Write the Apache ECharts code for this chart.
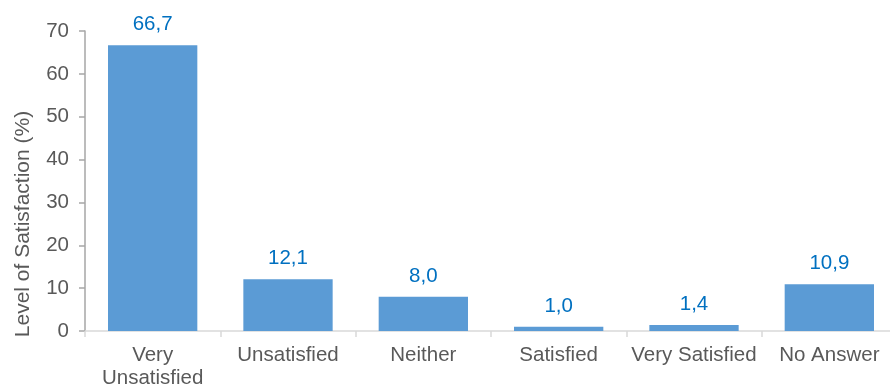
<!DOCTYPE html>
<html><head><meta charset="utf-8">
<script src="https://cdn.jsdelivr.net/npm/echarts@6/dist/echarts.min.js"></script>
<style>html,body{margin:0;padding:0;background:#fff;}#c{width:890px;height:392px;}</style>
</head><body><div id="c"></div>
<script>
const categories = ['Very\nUnsatisfied', 'Unsatisfied', 'Neither', 'Satisfied', 'Very Satisfied', 'No Answer'];
const values = [66.7, 12.1, 8.0, 1.0, 1.4, 10.9];
const yTicks = [0, 10, 20, 30, 40, 50, 60, 70];
const yTitle = 'Level of Satisfaction (%)';

const FONT = '"Liberation Sans", Arial, sans-serif';
const chart = echarts.init(document.getElementById('c'), null, {renderer: 'canvas'});
chart.setOption({
  animation: false,
  backgroundColor: '#fff',
  grid: {left: 85, width: 812, top: 31, bottom: 61, containLabel: false, outerBoundsMode: 'none'},
  graphic: [{
    type: 'text', x: 23, y: 224, rotation: Math.PI / 2,
    style: {text: yTitle, font: '21px ' + FONT, fill: '#595959', textAlign: 'center', textVerticalAlign: 'middle'}
  }],
  xAxis: {
    type: 'category', data: categories,
    axisLine: {lineStyle: {color: '#D9D9D9', width: 1.5}},
    axisTick: {show: true, alignWithLabel: false, length: 6, lineStyle: {color: '#D9D9D9', width: 1.5}},
    axisLabel: {interval: 0, color: '#595959', fontFamily: FONT, fontSize: 20.5, margin: 13, lineHeight: 23}
  },
  yAxis: {
    type: 'value', min: yTicks[0], max: yTicks[yTicks.length - 1], interval: 10,
    splitLine: {show: false},
    axisLine: {show: true, lineStyle: {color: '#A6A6A6', width: 1.5}},
    axisTick: {show: true, length: 6, lineStyle: {color: '#A6A6A6', width: 1.5}},
    axisLabel: {color: '#595959', fontFamily: FONT, fontSize: 20.5, margin: 16}
  },
  series: [{
    type: 'bar', data: values, barCategoryGap: '34%',
    itemStyle: {color: '#5B9BD5'},
    label: {
      show: true, position: 'top', distance: 10, color: '#0070C0', fontFamily: FONT, fontSize: 20.5,
      formatter: p => p.value.toFixed(1).replace('.', ',')
    }
  }]
});
</script></body></html>
